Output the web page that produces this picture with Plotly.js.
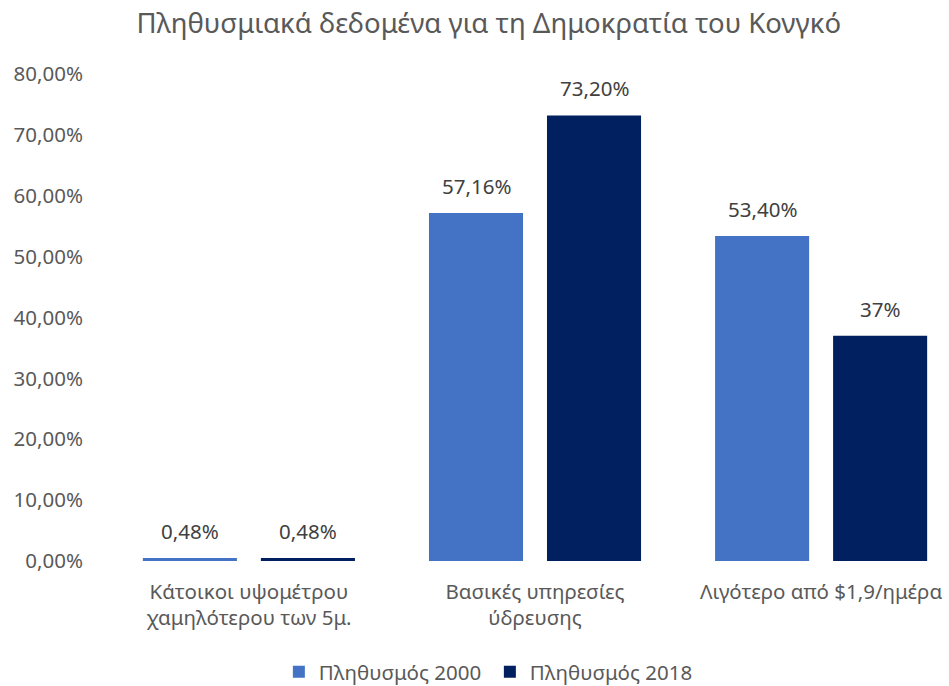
<!DOCTYPE html>
<html>
<head>
<meta charset="utf-8">
<script src="https://cdn.plot.ly/plotly-3.0.1.min.js"></script>
<style>html,body{margin:0;padding:0;background:#fff;}#chart{width:949px;height:686px;}</style>
</head>
<body>
<div id="chart"></div>
<script>
const categories = ["Κάτοικοι υψομέτρου<br>χαμηλότερου των 5μ.", "Βασικές υπηρεσίες<br>ύδρευσης", "Λιγότερο από $1,9/ημέρα"];
const seriesNames = ["Πληθυσμός 2000", "Πληθυσμός 2018"];
const values2000 = [0.48, 57.16, 53.40];
const values2018 = [0.48, 73.20, 37];
const labels2000 = ["0,48%", "57,16%", "53,40%"];
const labels2018 = ["0,48%", "73,20%", "37%"];
const colors = ["#4472C4", "#002060"];

const font = "Noto Sans, DejaVu Sans, sans-serif";
const fs = 20.5;
const bargap = 0.175;
const slot = (1 - bargap) / 2;

const traces = [
  {type: "bar", name: seriesNames[0], x: categories, y: values2000,
   marker: {color: colors[0]}, hoverinfo: "none"},
  {type: "bar", name: seriesNames[1], x: categories, y: values2018,
   marker: {color: colors[1]}, hoverinfo: "none"}
];

const annotations = [];
[[values2000, labels2000, -1], [values2018, labels2018, 1]].forEach(([vals, labs, side]) => {
  vals.forEach((v, i) => {
    annotations.push({
      xref: "x", yref: "y", x: i + side * slot / 2, y: v, text: labs[i],
      showarrow: false, yanchor: "bottom", xanchor: "center", yshift: 11,
      font: {family: font, size: fs, color: "#404040"}
    });
  });
});

const layout = {
  width: 949, height: 686,
  margin: {l: 105, r: 0, t: 74, b: 125, autoexpand: false},
  paper_bgcolor: "#fff", plot_bgcolor: "#fff",
  separators: ",.",
  font: {family: font, size: fs, color: "#595959"},
  title: {text: "Πληθυσμιακά δεδομένα για τη Δημοκρατία του Κονγκό",
          font: {family: font, size: 27.5, color: "#595959"},
          x: 0.515, xref: "container", xanchor: "center", y: 0.966, yref: "container", yanchor: "middle"},
  barmode: "group", bargap: bargap, bargroupgap: 0.203,
  xaxis: {type: "category", range: [-0.503, 2.447], showgrid: false, zeroline: false, showline: false,
          ticks: "", ticklabelstandoff: 16, tickfont: {family: font, size: fs, color: "#595959"}, automargin: false, fixedrange: true},
  yaxis: {range: [0, 80], dtick: 10, tick0: 0, tickformat: ".2f", ticksuffix: "%",
          showgrid: false, zeroline: false, showline: false, ticks: "", ticklabelstandoff: 21,
          tickfont: {family: font, size: fs, color: "#595959"}, automargin: false, fixedrange: true},
  legend: {orientation: "h", x: 0.456, xanchor: "center", y: -0.228, yref: "paper", yanchor: "middle",
           entrywidth: 166, font: {family: font, size: fs, color: "#595959"}, traceorder: "normal"},
  annotations: annotations,
  showlegend: true
};
Plotly.newPlot("chart", traces, layout, {displayModeBar: false, staticPlot: true});
</script>
</body>
</html>
